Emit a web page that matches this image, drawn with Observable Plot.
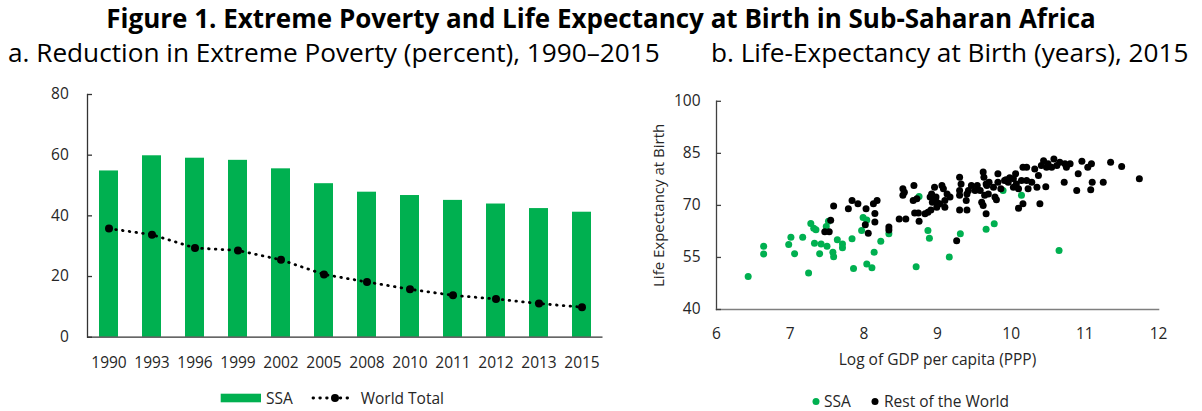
<!DOCTYPE html>
<html>
<head>
<meta charset="utf-8">
<script src="https://cdn.jsdelivr.net/npm/d3@7"></script>
<script src="https://cdn.jsdelivr.net/npm/@observablehq/plot@0.6"></script>
<style>
  html, body { margin: 0; padding: 0; background: #fff; }
  #fig { position: relative; width: 1202px; height: 411px; overflow: hidden; font-family: "Open Sans", sans-serif; }
  #fig > div, #fig > svg { position: absolute; }
  #left { left: 0; top: 70px; }
  #right { left: 620px; top: 70px; }
  #overlay { left: 0; top: 0; pointer-events: none; }
</style>
</head>
<body>
<div id="fig">
  <div id="left"></div>
  <div id="right"></div>
  <svg id="overlay" width="1202" height="411"></svg>
</div>
<script>
// ---------- Data ----------
const years = ["1990","1993","1996","1999","2002","2005","2008","2010","2011","2012","2013","2015"];
const ssaPoverty = [54.8, 59.8, 59.0, 58.3, 55.5, 50.6, 47.8, 46.7, 45.1, 43.9, 42.4, 41.2];
const worldPoverty = [35.8, 33.8, 29.4, 28.6, 25.5, 20.7, 18.2, 15.8, 13.8, 12.6, 11.1, 9.9];
const povertyTicks = [0, 20, 40, 60, 80];

const ssaLogGdp = [6.43,6.64,6.64,6.98,7.01,7.06,7.17,7.25,7.28,7.32,7.35,7.33,7.42,7.40,7.50,7.58,7.59,7.49,7.52,7.64,7.71,7.71,7.84,7.86,7.97,7.99,8.04,8.23,8.14,8.34,8.04,8.11,8.71,8.75,8.87,8.89,9.16,9.31,9.66,9.77,9.89,10.14,10.65];
const ssaLife   = [49.5,58.2,56.0,58.7,60.8,56.1,60.8,50.5,64.8,63.4,63.0,59.1,58.9,56.1,58.2,56.5,55.2,63.9,65.4,60.1,58.9,57.8,60.4,51.8,62.8,66.5,65.8,59.7,56.5,61.8,53.1,52.0,52.3,72.6,62.8,60.5,55.1,61.8,63.1,64.7,74.3,72.9,57.0];

const rowLogGdp = [7.47,7.53,7.55,7.59,7.79,7.84,7.92,8.03,8.02,8.06,8.13,8.18,8.15,8.15,8.34,8.34,8.48,8.57,8.53,8.55,8.53,8.68,8.67,8.72,8.69,8.74,8.75,8.83,8.87,8.91,8.90,8.92,8.96,8.93,8.99,8.99,9.03,9.06,9.08,9.13,9.17,9.10,9.10,9.30,9.32,9.30,9.30,9.30,9.40,9.39,9.40,9.26,9.46,9.51,9.54,9.58,9.62,9.63,9.60,9.62,9.66,9.67,9.69,9.82,9.70,9.76,9.82,9.86,9.91,9.96,10.03,10.06,10.07,10.10,10.14,10.16,10.21,10.21,10.23,10.28,10.32,10.35,10.37,10.41,10.44,10.48,10.50,10.47,10.58,10.55,10.62,10.66,10.73,10.75,10.80,10.72,10.91,10.96,11.04,11.09,11.10,11.08,10.89,11.25,11.35,11.50,11.74,9.78,9.80,10.10,10.16,10.39,9.64,9.66,9.93,9.98,9.42,10.03,8.98];
const rowLife   = [62.4,62.4,65.7,69.8,69.0,71.4,70.5,69.0,64.4,62.0,70.5,71.4,67.7,65.2,63.8,62.9,66.1,66.1,74.8,73.8,72.9,75.7,71.4,71.9,67.8,67.8,65.4,67.6,68.0,68.7,72.4,73.3,75.2,70.9,70.9,69.5,70.5,75.7,74.8,73.3,72.4,71.4,69.5,78.1,76.2,74.3,72.9,68.7,68.7,71.4,73.3,59.8,75.7,74.3,75.7,74.3,79.6,78.1,70.9,70.0,67.6,75.7,73.3,79.1,76.7,75.2,76.7,74.8,77.2,76.7,77.7,79.1,76.2,74.8,77.2,81.0,81.0,77.2,74.8,76.7,80.5,75.2,78.6,81.5,82.9,81.0,82.0,75.4,83.4,81.0,81.5,82.4,82.0,81.0,82.0,76.7,79.1,82.7,81.0,82.0,76.7,74.5,74.3,76.7,82.4,81.2,77.7,72.4,71.6,69.2,70.5,70.5,72.9,76.2,77.4,78.0,74.3,75.2,72.4];
const lifeTicks = [40, 55, 70, 85, 100];
const gdpTicks = [6, 7, 8, 9, 10, 11, 12];

const GREEN = "#00b050";
const FONT = '"Open Sans", sans-serif';
const TXT = "#262626";

// ---------- Panel a ----------
const povData = years.map((y, i) => ({year: y, ssa: ssaPoverty[i], world: worldPoverty[i]}));
const LW = 620, LML = 87, LMR = 17.5;
const left = Plot.plot({
  width: LW, height: 341,
  marginLeft: LML, marginRight: LMR, marginTop: 24, marginBottom: 74.3,
  style: {fontFamily: FONT, fontSize: "15.5px", color: TXT, background: "transparent", overflow: "visible"},
  x: {type: "band", domain: years, paddingInner: 0.552, paddingOuter: 0.259, label: null},
  y: {domain: [0, 80], label: null},
  marks: [
    Plot.barY(povData, {x: "year", y: "ssa", fill: GREEN}),
    Plot.line(povData, {x: "year", y: "world", stroke: "#000", strokeWidth: 2.8, strokeDasharray: "0.6 6.2", strokeLinecap: "round"}),
    Plot.dot(povData, {x: "year", y: "world", r: 4, fill: "#000"}),
    Plot.ruleY([0], {stroke: "#333", strokeWidth: 1.3}),
    Plot.frame({anchor: "left", stroke: "#333", strokeWidth: 1.3}),
    Plot.tickY(povertyTicks, {y: d => d, insetRight: LW - LML - LMR - 5, stroke: "#333", strokeWidth: 1.3}),
    Plot.axisX({tickSize: 0, tickPadding: 19.3, label: null, fill: TXT}),
    Plot.axisY(povertyTicks, {tickSize: 0, tickPadding: 18.7, label: null, fill: TXT})
  ]
});
document.getElementById("left").appendChild(left);

// ---------- Panel b ----------
const ssaPts = ssaLogGdp.map((x, i) => ({x, y: ssaLife[i]}));
const rowPts = rowLogGdp.map((x, i) => ({x, y: rowLife[i]}));
const RW = 582, RML = 96, RMR = 44;
const right = Plot.plot({
  width: RW, height: 341,
  marginLeft: RML, marginRight: RMR, marginTop: 30.8, marginBottom: 102,
  style: {fontFamily: FONT, fontSize: "15.5px", color: TXT, background: "transparent", overflow: "visible"},
  x: {domain: [6, 12], label: null},
  y: {domain: [40, 100], label: null},
  marks: [
    Plot.dot(ssaPts, {x: "x", y: "y", r: 3.5, fill: GREEN}),
    Plot.dot(rowPts, {x: "x", y: "y", r: 3.5, fill: "#000"}),
    Plot.frame({anchor: "left", stroke: "#404040", strokeWidth: 1.3}),
    Plot.frame({anchor: "bottom", stroke: "#7f7f7f", strokeWidth: 1.6}),
    Plot.tickY(lifeTicks, {y: d => d, insetRight: RW - RML - RMR - 5, stroke: "#404040", strokeWidth: 1.3}),
    Plot.axisX(gdpTicks, {tickSize: 0, tickPadding: 18.2, label: null, fill: TXT}),
    Plot.axisY(lifeTicks, {tickSize: 0, tickPadding: 16, label: null, fill: TXT}),
    Plot.text(["Log of GDP per capita (PPP)"], {text: d => d, frameAnchor: "bottom", textAnchor: "middle", lineAnchor: "middle", dy: 51, fontSize: 15.5, fill: TXT}),
    Plot.text(["Life Expectancy at Birth"], {text: d => d, frameAnchor: "left", textAnchor: "middle", lineAnchor: "middle", dx: -57, rotate: -90, fontSize: 15, fill: TXT})
  ]
});
document.getElementById("right").appendChild(right);

// ---------- Titles & legends ----------
const ov = d3.select("#overlay").style("font-family", FONT);
ov.append("text").attr("x", 601).attr("y", 27.5).attr("text-anchor", "middle")
  .attr("font-weight", 700).attr("font-size", 26).attr("fill", "#000")
  .text("Figure 1. Extreme Poverty and Life Expectancy at Birth in Sub-Saharan Africa");
ov.append("text").attr("x", 8).attr("y", 62).attr("font-size", 26.2).attr("fill", "#000")
  .text("a. Reduction in Extreme Poverty (percent), 1990–2015");
ov.append("text").attr("x", 711).attr("y", 62).attr("font-size", 26.2).attr("fill", "#000")
  .text("b. Life-Expectancy at Birth (years), 2015");

// legend a
const la = ov.append("g");
la.append("rect").attr("x", 220.7).attr("y", 393.7).attr("width", 40.3).attr("height", 8.6).attr("fill", GREEN);
la.append("text").attr("x", 266).attr("y", 403.6).attr("font-size", 15.5).attr("fill", TXT).text("SSA");
la.append("line").attr("x1", 313).attr("x2", 352).attr("y1", 398).attr("y2", 398)
  .attr("stroke", "#000").attr("stroke-width", 2.8).attr("stroke-dasharray", "0.6 6.2").attr("stroke-linecap", "round");
la.append("circle").attr("cx", 335).attr("cy", 398).attr("r", 4).attr("fill", "#000");
la.append("text").attr("x", 360.7).attr("y", 403.6).attr("font-size", 15.5).attr("fill", TXT).text("World Total");

// legend b
const lb = ov.append("g");
lb.append("circle").attr("cx", 816).attr("cy", 401.5).attr("r", 3.5).attr("fill", GREEN);
lb.append("text").attr("x", 824).attr("y", 406.5).attr("font-size", 15.5).attr("fill", TXT).text("SSA");
lb.append("circle").attr("cx", 875).attr("cy", 401.5).attr("r", 3.5).attr("fill", "#000");
lb.append("text").attr("x", 884).attr("y", 406.5).attr("font-size", 15.5).attr("fill", TXT).text("Rest of the World");
</script>
</body>
</html>
